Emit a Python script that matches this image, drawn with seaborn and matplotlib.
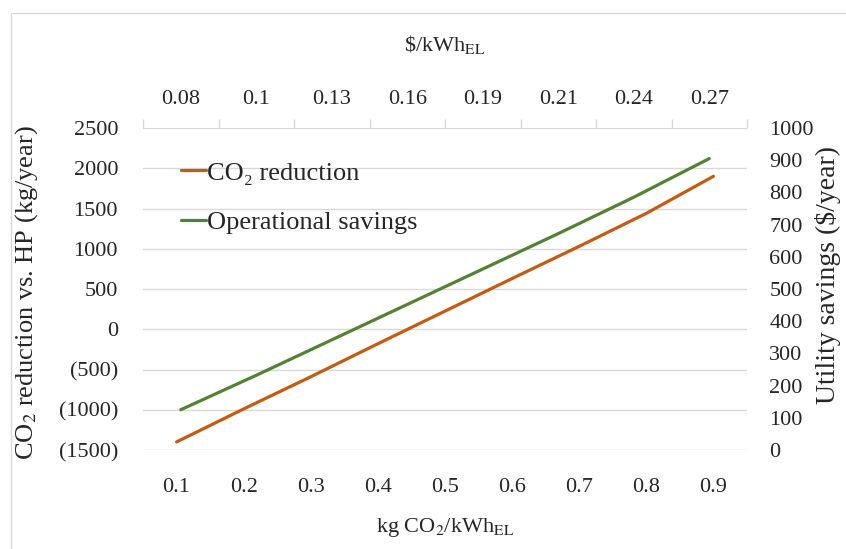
import numpy as np
import matplotlib
matplotlib.use("Agg")
import matplotlib.pyplot as plt
import matplotlib.patches as patches
from matplotlib.ticker import FixedLocator, FuncFormatter
import seaborn as sns

# ---- data ----
co2_intensity = ["0.1", "0.2", "0.3", "0.4", "0.5", "0.6", "0.7", "0.8", "0.9"]
co2_reduction = [-1400, -990, -590, -180, 225, 630, 1030, 1440, 1900]
elec_price = ["0.08", "0.1", "0.13", "0.16", "0.19", "0.21", "0.24", "0.27"]
op_savings = [125, 232, 342, 452, 562, 672, 785, 905]
left_ticks = [-1500, -1000, -500, 0, 500, 1000, 1500, 2000, 2500]
right_ticks = [0, 100, 200, 300, 400, 500, 600, 700, 800, 900, 1000]

ORANGE = "#C55A11"
GREEN = "#548235"
GRID = "#D9D9D9"

sns.set_theme(style="white")
plt.rcParams["font.family"] = ["Liberation Serif", "DejaVu Serif"]
plt.rcParams["mathtext.fontset"] = "stix"
FS = 16

fig = plt.figure(figsize=(8.46, 5.49), dpi=100)
fig.subplots_adjust(left=143/846, right=747/846, top=1-128/549, bottom=1-450/549)
ax = fig.add_subplot(111)
ax_r = ax.twinx()
ax_t = ax_r.twiny()

x_bot = np.arange(len(co2_intensity))
x_top = np.arange(len(elec_price))

sns.lineplot(x=x_bot, y=co2_reduction, ax=ax, color=ORANGE, linewidth=2.3,
             label="CO\u2082 reduction", legend=False)
sns.lineplot(x=x_top, y=op_savings, ax=ax_t, color=GREEN, linewidth=2.3,
             label="Operational savings", legend=False)

# main (bottom / left)
ax.set_xlim(-0.5, len(co2_intensity) - 0.5)
ax.set_ylim(-1500, 2500)
ax.set_xticks(x_bot)
ax.set_xticklabels(co2_intensity)
ax.yaxis.set_major_locator(FixedLocator(left_ticks))
ax.yaxis.set_major_formatter(FuncFormatter(lambda v, p: f"({abs(int(v))})" if v < 0 else f"{int(v)}"))
ax.grid(axis="y", color=GRID, linewidth=1)
ax.grid(axis="x", visible=False)
ax.tick_params(axis="x", length=0, pad=20, labelsize=FS)
ax.tick_params(axis="y", length=0, pad=18, labelsize=FS)
for s in ax.spines.values():
    s.set_visible(False)
ax.set_xlabel("kg CO$_2$/kWh$_{\\rm EL}$", fontsize=FS)
ax.set_ylabel("CO$_2$ reduction vs. HP (kg/year)", fontsize=19)
ax.xaxis.set_label_coords(0.5, -0.205)
ax.yaxis.set_label_coords(-0.17, 0.49)

# right
ax_r.set_ylim(0, 1000)
ax_r.yaxis.set_major_locator(FixedLocator(right_ticks))
ax_r.tick_params(axis="y", length=0, pad=16, labelsize=FS)
ax_r.grid(False)
for s in ax_r.spines.values():
    s.set_visible(False)
ax_r.set_ylabel("Utility savings (\\$/year)", fontsize=20)
ax_r.yaxis.set_label_coords(1.112, 0.545)

# top
ax_t.set_xlim(-0.5, len(elec_price) - 0.5)
ax_t.set_xticks(x_top)
ax_t.set_xticklabels(elec_price)
ax_t.set_xticks(np.arange(len(elec_price) + 1) - 0.5, minor=True)
ax_t.tick_params(axis="x", which="major", length=0, pad=14, labelsize=FS)
ax_t.tick_params(axis="x", which="minor", length=6.5, width=1, color=GRID, direction="out")
ax_t.grid(False)
for s in ax_t.spines.values():
    s.set_visible(False)
ax_t.set_xlabel("\\$/kWh$_{\\rm EL}$", fontsize=FS)
ax_t.xaxis.set_label_coords(0.5, 1.24)

# legend
h1, l1 = ax.get_legend_handles_labels()
h2, l2 = ax_t.get_legend_handles_labels()
leg = ax_t.legend(h1 + h2, l1 + l2, loc="upper left", bbox_to_anchor=(0.045, 0.93),
                  frameon=False, fontsize=19, handlelength=0.95, handletextpad=0.05,
                  labelspacing=1.0, borderaxespad=0)

# outer border
fig.patches.append(patches.Rectangle((11/846, -0.1), 1.2, (549-13)/549 + 0.1,
                                     transform=fig.transFigure, fill=False,
                                     edgecolor=GRID, linewidth=1))

fig.savefig("out.png", dpi=100)
